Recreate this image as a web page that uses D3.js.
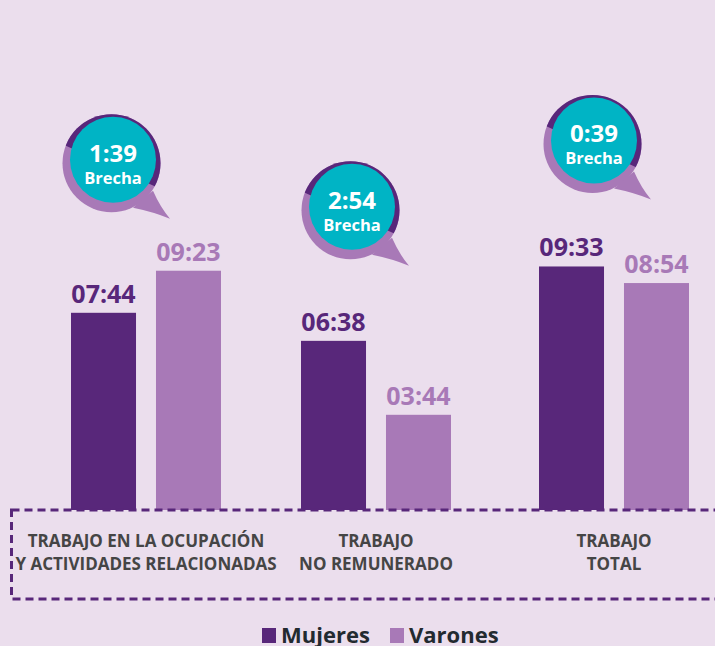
<!DOCTYPE html>
<html>
<head>
<meta charset="utf-8">
<script src="https://cdn.jsdelivr.net/npm/d3@7"></script>
<style>
  html, body { margin: 0; padding: 0; background: #ebdeed; }
  svg { display: block; font-family: "Open Sans", sans-serif; }
</style>
</head>
<body>
<div id="chart"></div>
<script>
// ---- data ----
var categories = ["ocupacion", "no_remunerado", "total"];
var categoryLabels = [
    ["TRABAJO EN LA OCUPACIÓN", "Y ACTIVIDADES RELACIONADAS"],
    ["TRABAJO", "NO REMUNERADO"],
    ["TRABAJO", "TOTAL"]
];
var series = ["Mujeres", "Varones"];
var mujeres = ["07:44", "06:38", "09:33"];
var varones = ["09:23", "03:44", "08:54"];
var brechas = ["1:39", "2:54", "0:39"];

// ---- styling ----
var colors = { Mujeres: "#58277a", Varones: "#a879b7" };
var teal = "#00b4c5";
var width = 715, height = 646;
var baseline = 510;

var toMin = function(s){
    var p = s.split(":");
    return (+p[0]) * 60 + (+p[1]);
};

var rows = categories.map(function(c, i){
    return { cat: c, labels: categoryLabels[i], brecha: brechas[i],
        vals: [ { s: "Mujeres", txt: mujeres[i], v: toMin(mujeres[i]) },
                { s: "Varones", txt: varones[i], v: toMin(varones[i]) } ] };
});

var svg = d3.select("#chart").append("svg")
    .attr("width", width).attr("height", height);

svg.append("rect").attr("width", width).attr("height", height).attr("fill", "#ebdeed");

var x0 = d3.scaleBand().domain(categories).range([29, 731]).padding(0);
var x1 = d3.scaleBand().domain(series).range([-75, 75]).paddingInner(0.235);
var y = d3.scaleLinear().domain([0, 600]).range([baseline, baseline - 255]);

var g = svg.selectAll("g.group").data(rows).enter().append("g")
    .attr("class", "group")
    .attr("transform", function(d, i){
        // middle group sits a little left in the original
        var shift = i === 1 ? -4 : 0;
        return "translate(" + (x0(d.cat) + x0.bandwidth() / 2 + shift) + ",0)";
    });

// bars
g.selectAll("rect.bar").data(function(d){ return d.vals; }).enter().append("rect")
    .attr("class", "bar")
    .attr("x", function(d){ return x1(d.s); })
    .attr("width", x1.bandwidth())
    .attr("y", function(d){ return y(d.v); })
    .attr("height", function(d){ return baseline - y(d.v); })
    .attr("fill", function(d){ return colors[d.s]; });

// value labels
g.selectAll("text.val").data(function(d){ return d.vals; }).enter().append("text")
    .attr("class", "val")
    .attr("x", function(d){ return x1(d.s) + x1.bandwidth() / 2; })
    .attr("y", function(d){ return y(d.v) - 10; })
    .attr("text-anchor", "middle")
    .attr("font-size", 25).attr("font-weight", 700)
    .attr("fill", function(d){ return colors[d.s]; })
    .text(function(d){ return d.txt; });

// category labels
g.each(function(d){
    var t = d3.select(this).append("text")
        .attr("text-anchor", "middle")
        .attr("font-size", 17).attr("font-weight", 700)
        .attr("fill", "#454545");
    d.labels.forEach(function(l, i){
        t.append("tspan").attr("x", 0).attr("y", 547 + i * 23).text(l);
    });
});

// dashed frame
svg.append("rect")
    .attr("x", 11.5).attr("y", 510).attr("width", 740).attr("height", 89)
    .attr("fill", "none")
    .attr("stroke", colors.Mujeres).attr("stroke-width", 3)
    .attr("stroke-dasharray", "8,5");

// brecha bubbles
var bubbleNudge = [[-33, -111], [-28, -134], [-20, -126]];
var defs = svg.append("defs");
defs.append("clipPath").attr("id", "topHalf")
    .append("path").attr("d", "M-80,-80 L80,-80 L80,44 L-80,-29 Z");

var tailPath = "M40,31 Q47,47 57,59 Q40,52 20,48 Z";

var b = svg.selectAll("g.bubble").data(rows).enter().append("g")
    .attr("class", "bubble")
    .attr("transform", function(d, i){
        var mx = d3.max(d.vals, function(v){ return v.v; });
        var cx = x0(d.cat) + x0.bandwidth() / 2 + bubbleNudge[i][0];
        var cy = y(mx) + bubbleNudge[i][1];
        return "translate(" + cx + "," + cy + ")";
    });

b.append("circle").attr("cx", -1.5).attr("cy", 3.5).attr("r", 49).attr("fill", colors.Varones);
b.append("path").attr("d", tailPath).attr("fill", colors.Varones);
b.append("circle").attr("cx", -1.5).attr("cy", 3.5).attr("r", 49).attr("fill", colors.Mujeres)
    .attr("clip-path", "url(#topHalf)");
b.append("circle").attr("r", 43).attr("fill", teal);
b.append("text").attr("text-anchor", "middle").attr("y", 2)
    .attr("font-size", 24).attr("font-weight", 700).attr("fill", "#fff")
    .text(function(d){ return d.brecha; });
b.append("text").attr("text-anchor", "middle").attr("y", 24)
    .attr("font-size", 16.5).attr("font-weight", 700).attr("fill", "#fff")
    .text("Brecha");

// legend
var legend = svg.append("g").attr("transform", "translate(262,643)");
var li = legend.selectAll("g").data(series).enter().append("g")
    .attr("transform", function(d, i){ return "translate(" + (i * 128) + ",0)"; });
li.append("rect").attr("x", 0).attr("y", -15).attr("width", 14).attr("height", 15)
    .attr("fill", function(d){ return colors[d]; });
li.append("text").attr("x", 19).attr("y", 0)
    .attr("font-size", 22).attr("font-weight", 700).attr("fill", "#232a30")
    .text(function(d){ return d; });
</script>
</body>
</html>
